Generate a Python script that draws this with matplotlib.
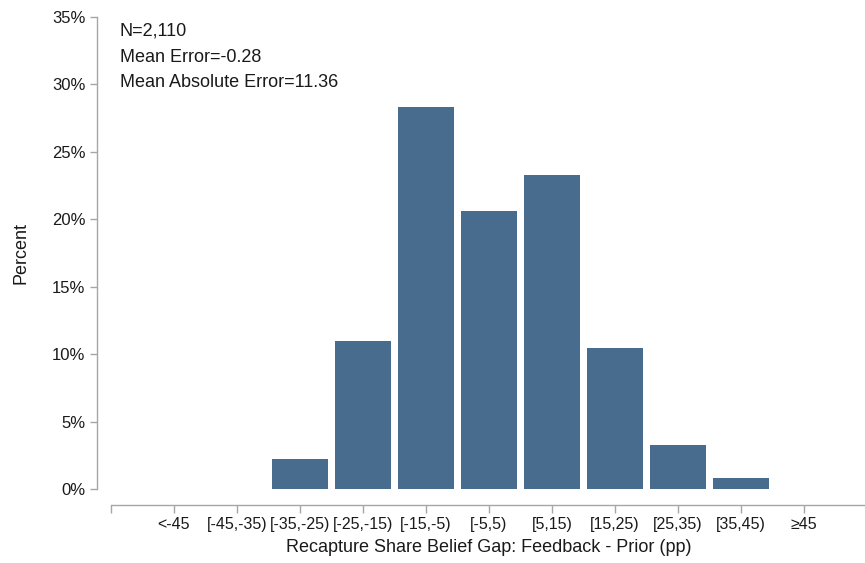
import matplotlib.pyplot as plt
import numpy as np
from matplotlib.ticker import PercentFormatter

categories = ["<-45", "[-45,-35)", "[-35,-25)", "[-25,-15)", "[-15,-5)", "[-5,5)",
              "[5,15)", "[15,25)", "[25,35)", "[35,45)", "\u226545"]
percents = [0.0, 0.0, 2.22, 10.97, 28.33, 20.61, 23.28, 10.46, 3.26, 0.82, 0.0]
stats_lines = ["N=2,110", "Mean Error=-0.28", "Mean Absolute Error=11.36"]

plt.rcParams['font.family'] = ['Liberation Sans', 'DejaVu Sans']

bar_color = '#486c8e'
axis_grey = '#a6a6a6'
text_color = '#1a1a1a'

fig = plt.figure(figsize=(8.65, 5.63), dpi=100, facecolor='white')
ax = fig.add_axes([111 / 865, 74 / 563, 756 / 865, 472 / 563])

x = np.arange(len(categories))
ax.bar(x, percents, width=0.9, color=bar_color, linewidth=0)

ax.set_xlim(-1, 11)
ax.set_ylim(0, 35)
ax.set_yticks(np.arange(0, 36, 5))
ax.yaxis.set_major_formatter(PercentFormatter(decimals=0))
ax.set_xticks(np.arange(-1, 11))
ax.set_xticklabels([""] + categories)

for side in ['top', 'right']:
    ax.spines[side].set_visible(False)
ax.spines['left'].set_position(('outward', 10))
ax.spines['bottom'].set_position(('outward', 11.5))
for side in ['left', 'bottom']:
    ax.spines[side].set_color(axis_grey)
    ax.spines[side].set_linewidth(1.0)

ax.tick_params(axis='both', colors=axis_grey, length=5, width=1.0,
               labelcolor=text_color)
ax.tick_params(axis='y', labelsize=12)
ax.tick_params(axis='x', direction='out', length=6, pad=3, labelsize=11.5)

ax.set_ylabel("Percent", fontsize=13, color=text_color, labelpad=16)
ax.set_xlabel("Recapture Share Belief Gap: Feedback - Prior (pp)", fontsize=13,
              color=text_color, labelpad=5)

# stats block placed in pixel offsets from the figure's top-left corner
for i, line in enumerate(stats_lines):
    ax.text(120 / 865, 1 - (31 + 26 * i) / 563, line, transform=fig.transFigure,
            fontsize=13, color=text_color, va='center', ha='left')

fig.savefig("out.png", dpi=100, facecolor='white')
